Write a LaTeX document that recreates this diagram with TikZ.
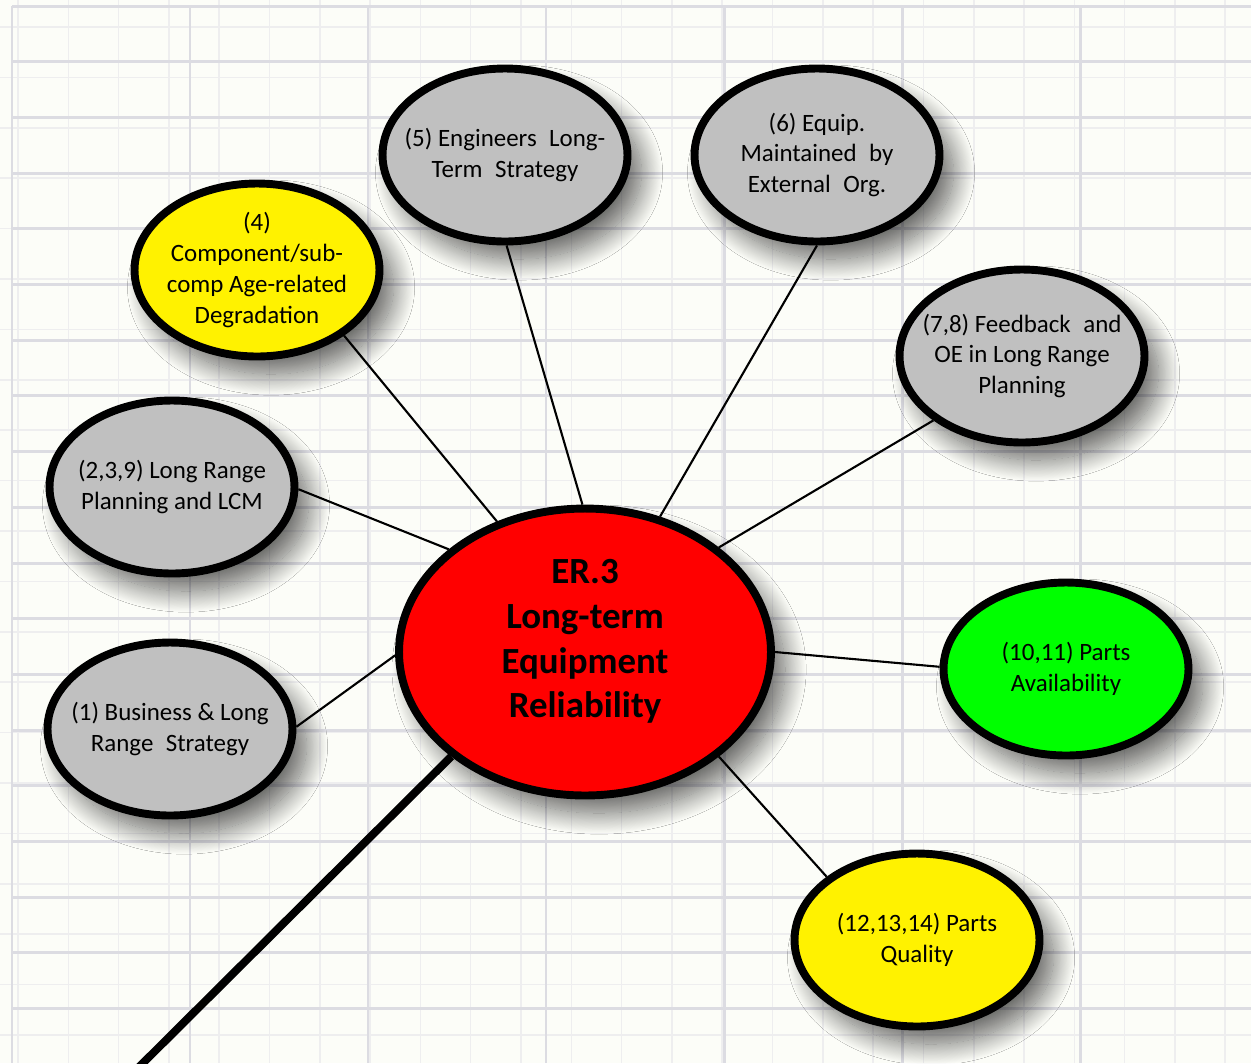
\documentclass[tikz,border=0pt]{standalone}
\usepackage{fontspec}
\setmainfont{Carlito}
\usetikzlibrary{shapes.geometric,shadows.blur}

\definecolor{paper}{RGB}{252,253,248}
\definecolor{gridmajor}{RGB}{220,220,226}
\definecolor{gridminor}{RGB}{238,238,239}
\definecolor{bubblegrey}{RGB}{192,192,192}

\begin{document}
\begin{tikzpicture}
[x=0.02cm,y=-0.02cm,
bubble/.style={ellipse,draw=black,line width=4.5pt,fill=bubblegrey,
  minimum width=4.9cm,minimum height=3.46cm,
  blur shadow={shadow xshift=8pt,shadow yshift=-10pt,shadow blur radius=12pt,
    shadow blur steps=25,shadow opacity=60}},
lbl/.style={align=center,font=\fontsize{14.2}{17.6}\selectfont},
hub/.style={align=center,yshift=6pt,font=\fontsize{21}{25.5}\selectfont\bfseries},
spoke/.style={line width=1.2pt}]
\useasboundingbox (0,0) rectangle (1251,1063);
\fill[paper] (0,0) rectangle (1251,1063);
% grid
\foreach \gx in {18,68.3,...,1251} \draw[gridminor,line width=0.9pt] (\gx,0) -- (\gx,1063);
\foreach \gy in {27,77.4,...,1063} \draw[gridminor,line width=0.9pt] (0,\gy) -- (1251,\gy);
\foreach \gx in {12,190,...,1251} \draw[gridmajor,line width=1.7pt] (\gx,6) -- (\gx,1063);
\foreach \gy in {6,61.7,...,1063} \draw[gridmajor,line width=1.7pt] (12,\gy) -- (1251,\gy);

\node[bubble,fill=red,minimum width=7.44cm,minimum height=5.74cm,
  label={[hub]center:{ER.3\\Long-term\\Equipment\\Reliability}}] (er3) at (585,652) {};
\node[bubble,label={[lbl]center:{(5) Engineers\enspace Long-\\Term\enspace Strategy}}] (n5) at (505,155) {};
\node[bubble,label={[lbl]center:{(6) Equip.\\Maintained\enspace by\\External\enspace Org.}}] (n6) at (817,155) {};
\node[bubble,fill=yellow,label={[lbl]center:{(4)\\Component/sub-\\comp Age-related\\Degradation}}] (n4) at (257,270) {};
\node[bubble,label={[lbl]center:{(7,8) Feedback\enspace and\\OE in Long Range\\Planning}}] (n78) at (1022,356) {};
\node[bubble,label={[lbl]center:{(2,3,9) Long Range\\Planning and LCM}}] (n239) at (172,487) {};
\node[bubble,label={[lbl]center:{(1) Business \& Long\\Range\enspace Strategy}}] (n1) at (170,729) {};
\node[bubble,fill=green,label={[lbl]center:{(10,11) Parts\\Availability}}] (n1011) at (1066,669) {};
\node[bubble,fill=yellow,label={[lbl]center:{(12,13,14) Parts\\Quality}}] (n1214) at (917,940) {};
\coordinate (tail) at (138,1068);

\foreach \from/\to in {er3.91/n5.-89,er3.61/n6.-90,er3.124/n4.-37,er3.143/n239.-1,
  er3.181/n1.1,er3.38/n78.216,er3.0/n1011.179,er3.-38/n1214.145}
\draw[spoke] (\from) -- (\to);
\draw[line width=4.5pt] (er3.218) -- (tail);
\end{tikzpicture}
\end{document}
